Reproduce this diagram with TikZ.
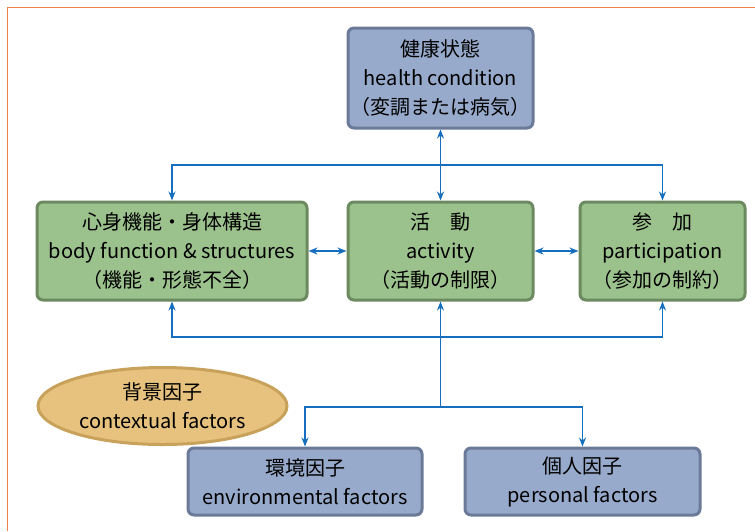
\documentclass[tikz,border=0pt]{standalone}
\usepackage{fontspec}
\setmainfont{Noto Sans CJK JP}
\usetikzlibrary{arrows.meta,shapes.geometric}

\definecolor{boxblue}{RGB}{151,170,203}
\definecolor{edgeblue}{RGB}{106,122,152}
\definecolor{boxgreen}{RGB}{155,194,140}
\definecolor{edgegreen}{RGB}{108,138,96}
\definecolor{boxsand}{RGB}{230,194,126}
\definecolor{edgesand}{RGB}{200,162,90}
\definecolor{linkblue}{RGB}{22,110,190}
\definecolor{frameorange}{RGB}{240,130,70}

\begin{document}
\begin{tikzpicture}[x=1pt,y=-1pt,
    bluebox/.style={fill=boxblue, draw=edgeblue, line width=3pt, rounded corners=6pt,
        align=center, inner sep=0pt, font=\fontsize{20}{29}\selectfont},
    greenbox/.style={fill=boxgreen, draw=edgegreen, line width=3pt, rounded corners=6pt,
        align=center, inner sep=0pt, minimum height=98pt, font=\fontsize{20}{29}\selectfont},
    link/.style={draw=linkblue, line width=1.6pt, -{Stealth[length=9pt,width=7pt]}},
    dlink/.style={link, {Stealth[length=9pt,width=7pt]}-{Stealth[length=9pt,width=7pt]}}]
    \useasboundingbox (0,0) rectangle (755,531);
    \fill[white] (0,0) rectangle (755,531);
    \draw[frameorange, line width=1pt] (7,531) -- (7,7) -- (755,7);
    % upper row
    \node[bluebox, minimum width=185pt, minimum height=100pt] (health) at (440.5,78)
        {健康状態\\health condition\\（変調または病気）};
    \node[greenbox, minimum width=270pt] (body) at (172,251)
        {心身機能・身体構造\\body function \& structures\\（機能・形態不全）};
    \node[greenbox, minimum width=185pt] (act) at (440.5,251)
        {活　動\\activity\\（活動の制限）};
    \node[greenbox, minimum width=165pt] (part) at (662.5,251)
        {参　加\\participation\\（参加の制約）};
    % contextual factors
    \node[ellipse, fill=boxsand, draw=edgesand, line width=3pt, minimum width=249pt,
        minimum height=77pt, inner sep=0pt, align=center, font=\fontsize{20}{29}\selectfont]
        (ctx) at (162.5,406) {背景因子\\contextual factors};
    \node[bluebox, minimum width=234pt, minimum height=67pt] (env) at (305,481.5)
        {環境因子\\environmental factors};
    \node[bluebox, minimum width=235pt, minimum height=67pt] (pers) at (582.5,481.5)
        {個人因子\\personal factors};
    % links
    \coordinate (top) at (440.5,165);
    \coordinate (low) at (440.5,337);
    \coordinate (fork) at (440.5,407);
    \draw[dlink] (act) -- (health);
    \draw[link] (top) -| (body.north);
    \draw[link] (top) -| (part.north);
    \draw[dlink] (body) -- (act);
    \draw[dlink] (act) -- (part);
    \draw[link] (low) -| (body.south);
    \draw[link] (low) -| (part.south);
    \draw[link] (fork) -- (act.south);
    \draw[link] (fork) -| (env.north);
    \draw[link] (fork) -| (pers.north);
\end{tikzpicture}
\end{document}
